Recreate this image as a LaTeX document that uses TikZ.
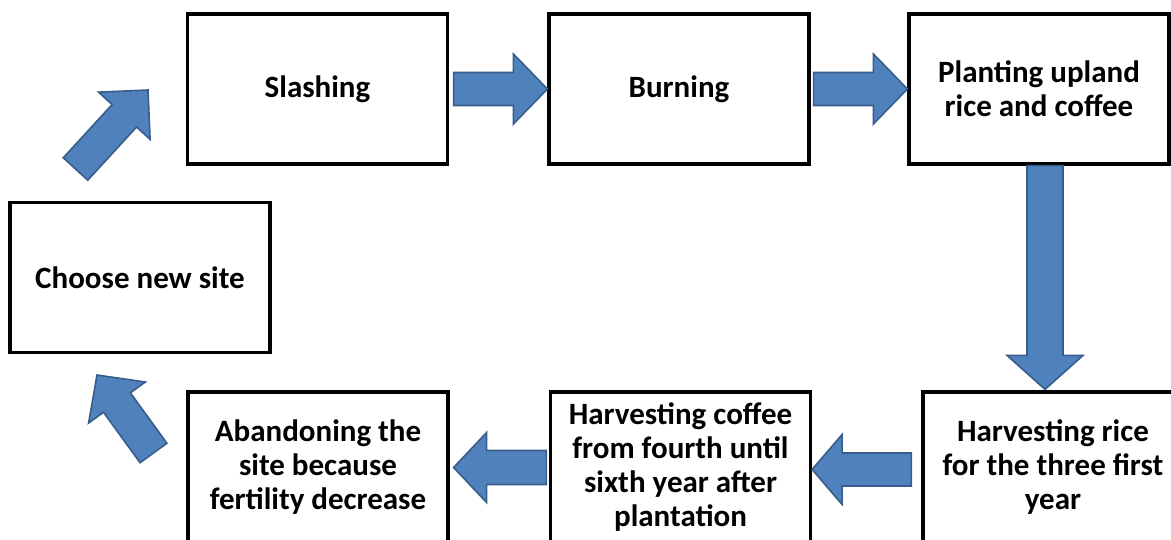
\documentclass[tikz,border=0pt]{standalone}
\usepackage{fontspec}
\setmainfont{Carlito}
\usetikzlibrary{calc}
\definecolor{arrowfill}{RGB}{79,129,189}
\definecolor{arrowline}{RGB}{56,93,138}
% block arrow: #1 start, #2 tip, #3 shaft half width, #4 head half width, #5 head length
\newcommand{\barrow}[5]{%
  \draw[blockarrow] ($(#1)!#3!90:(#2)$) -- ($(#2)!#5!(#1)!#3!90:(#2)$) --
    ($(#2)!#5!(#1)!#4!90:(#2)$) -- (#2) -- ($(#2)!#5!(#1)!#4!-90:(#2)$) --
    ($(#2)!#5!(#1)!#3!-90:(#2)$) -- ($(#1)!#3!-90:(#2)$) -- cycle;}
\tikzset{
  box/.style={draw=black, line width=1.6pt, minimum width=130pt, minimum height=75pt,
    align=center, inner sep=2pt, font=\fontsize{15.5}{17}\selectfont\bfseries},
  blockarrow/.style={fill=arrowfill, draw=arrowline, line width=0.8pt, line join=miter}
}
\begin{document}
\begin{tikzpicture}[x=0.5pt, y=-0.5pt]
\useasboundingbox (0,0) rectangle (1171,540);
\clip (0,0) rectangle (1171,540);
% boxes
\node[box] (choose) at (140,277.5) {Choose new site};
\node[box] (slash) at (317.5,89) {Slashing};
\node[box] (burn) at (679,89) {Burning};
\node[box] (plant) at (1039,89) {Planting upland\\rice and coffee};
\node[box] (rice) at (1053,467) {Harvesting rice\\for the three first\\year};
\node[box] (coffee) at (680.5,467) {Harvesting coffee\\from fourth until\\sixth year after\\plantation};
\node[box] (aband) at (318,467) {Abandoning the\\site because\\fertility decrease};
% arrow end points
\coordinate (a1s) at ([xshift=2.25pt]slash.east);
\coordinate (a1e) at (burn.west);
\coordinate (a2s) at ([xshift=1.5pt]burn.east);
\coordinate (a2e) at (plant.west);
\coordinate (a3s) at ([xshift=3pt]plant.south);
\coordinate (a3e) at ([xshift=-4pt,yshift=0.5pt]rice.north);
\coordinate (a4s) at ([xshift=-5pt,yshift=-1.25pt]rice.west);
\coordinate (a4e) at ([yshift=-1.25pt]coffee.east);
\coordinate (a5s) at ([xshift=-1.25pt,yshift=-0.25pt]coffee.west);
\coordinate (a5e) at ([xshift=2pt,yshift=-0.25pt]aband.east);
\coordinate (a6s) at (75.5,169);
\coordinate (a6e) at (148,90);
\coordinate (a7s) at (153.5,453);
\coordinate (a7e) at (97,375);
% arrows
\barrow{a1s}{a1e}{8.25pt}{17.5pt}{17pt}
\barrow{a2s}{a2e}{8.25pt}{17.5pt}{17pt}
\barrow{a3s}{a3e}{9pt}{19pt}{17pt}
\barrow{a4s}{a4e}{8.25pt}{17.5pt}{15pt}
\barrow{a5s}{a5e}{8.5pt}{17.5pt}{16.5pt}
\barrow{a6s}{a6e}{8.3pt}{17.5pt}{17.5pt}
\barrow{a7s}{a7e}{8.3pt}{17.5pt}{17pt}
\end{tikzpicture}
\end{document}
